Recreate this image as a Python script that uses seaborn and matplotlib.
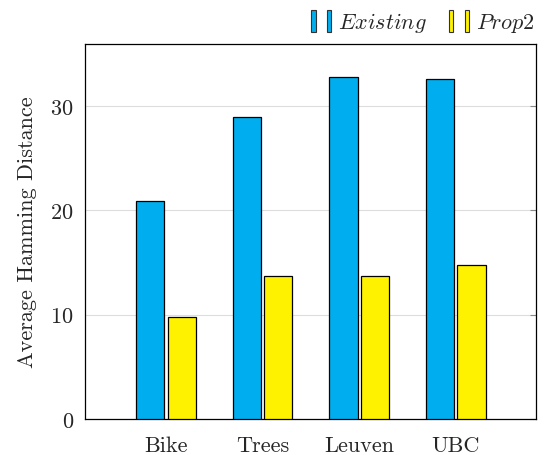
import pandas as pd
import seaborn as sns
import matplotlib.pyplot as plt
from matplotlib.patches import Rectangle
from matplotlib.legend_handler import HandlerTuple

# data
datasets = ["Bike", "Trees", "Leuven", "UBC"]
existing = [20.9, 29.0, 32.8, 32.6]
prop2 = [9.8, 13.75, 13.75, 14.8]
methods = ["Existing", "Prop2"]
colors = ["#00AEEF", "#FFF200"]

df = pd.DataFrame({
    "dataset": datasets * 2,
    "value": existing + prop2,
    "method": [methods[0]] * 4 + [methods[1]] * 4,
})

sns.set_style("white")
plt.rcParams["font.family"] = ["cmr10", "DejaVu Serif"]
plt.rcParams["mathtext.fontset"] = "cm"
plt.rcParams["axes.formatter.use_mathtext"] = True

fig, ax = plt.subplots(figsize=(5.48, 4.56), dpi=100)
sns.barplot(data=df, x="dataset", y="value", hue="method", palette=colors,
            width=0.65, gap=0.1, edgecolor="black", linewidth=0.9,
            saturation=1, ax=ax, legend=False, zorder=3)

ax.set_xlim(-0.84, 3.83)
ax.set_ylim(0, 36)
ax.set_yticks([0, 10, 20, 30])
ax.yaxis.grid(True, color="#dddddd", linewidth=0.8, zorder=0)
ax.set_axisbelow(True)
ax.tick_params(axis="y", direction="in", length=4, labelsize=16, right=True,
               color="#888888", pad=8)
ax.tick_params(axis="x", length=0, labelsize=16, pad=12)
ax.set_xlabel("")
ax.set_ylabel("Average Hamming Distance", fontsize=16, labelpad=10)
for s in ax.spines.values():
    s.set_color("black")
    s.set_linewidth(0.9)

handles = []
for c in colors:
    handles.append((Rectangle((0, 0), 1, 1, fc=c, ec="#333333", lw=0.8),
                    Rectangle((0, 0), 1, 1, fc=c, ec="#333333", lw=0.8)))
ax.legend(handles, [r"$\mathit{Existing}$", r"$\mathit{Prop2}$"],
          handler_map={tuple: HandlerTuple(ndivide=None, pad=0.5)},
          ncol=2, frameon=False, fontsize=16, loc="lower right",
          bbox_to_anchor=(1.02, 0.995), handlelength=0.9, handleheight=1.1,
          handletextpad=0.3, columnspacing=1.0, borderaxespad=0.1)

plt.subplots_adjust(left=0.155, right=0.978, top=0.902, bottom=0.079)
plt.savefig("out.png", dpi=100)
